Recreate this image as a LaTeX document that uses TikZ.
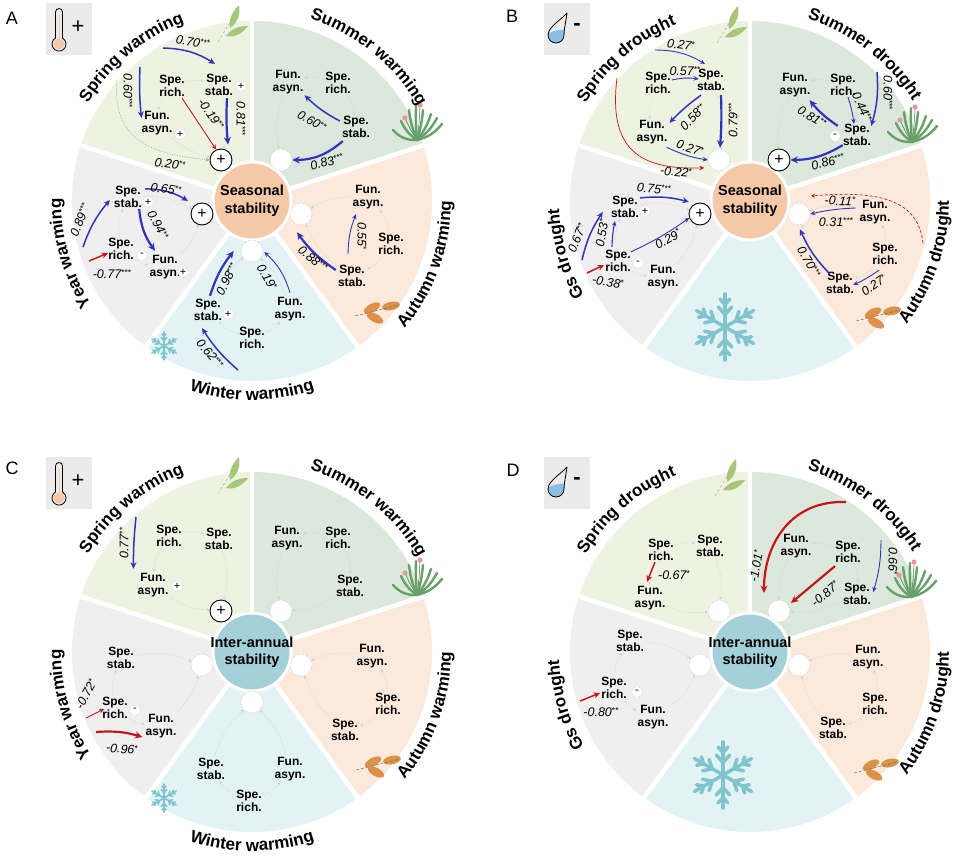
\documentclass[tikz,border=0pt]{standalone}
\usepackage{fontspec}
\setmainfont{Liberation Sans}
\usetikzlibrary{arrows.meta,decorations.text}

\definecolor{cspring}{RGB}{238,242,225}
\definecolor{csummer}{RGB}{220,232,219}
\definecolor{cautumn}{RGB}{251,233,219}
\definecolor{cwinter}{RGB}{227,242,244}
\definecolor{cyear}{RGB}{239,239,239}
\definecolor{cseason}{RGB}{245,200,168}
\definecolor{cinter}{RGB}{164,208,218}
\definecolor{pblue}{RGB}{48,52,188}
\definecolor{nred}{RGB}{196,22,28}
\definecolor{boxgray}{RGB}{235,235,235}
\definecolor{leafg}{RGB}{168,200,120}
\definecolor{grassg}{RGB}{104,160,106}
\definecolor{pinkc}{RGB}{232,150,160}
\definecolor{orangel}{RGB}{220,145,72}
\definecolor{snowc}{RGB}{128,196,205}
\definecolor{dropb}{RGB}{140,190,228}

\newcommand{\labf}{\bfseries\fontsize{12}{13.3}\selectfont}
\newcommand{\cff}{\itshape\fontsize{12.5}{13}\selectfont}
\newcommand{\ttlf}{\bfseries\fontsize{17}{17}\selectfont}
\newcommand{\stars}[1]{\raisebox{3pt}{\fontsize{8.5}{8.5}\selectfont\upshape #1}}

\tikzset{
 lab/.style={font=\labf, align=center, inner sep=1pt},
 cf/.style={font=\cff, inner sep=0.5pt},
 ctr/.style={circle, minimum size=78pt, inner sep=0pt, draw=white, line width=3pt},
 ctrtxt/.style={align=center, inner sep=0pt, font=\bfseries\fontsize{14.5}{17.5}\selectfont},
 bigc/.style={circle, minimum size=22pt, inner sep=0pt, fill=white, draw=gray!45, densely dotted, line width=0.6pt},
 bigp/.style={circle, minimum size=22pt, inner sep=0pt, fill=white, draw=black, line width=0.9pt, font=\fontsize{16}{16}\selectfont},
 sm/.style={circle, minimum size=11pt, inner sep=0pt, fill=white, draw=gray!55, densely dotted, line width=0.4pt, font=\fontsize{11}{11}\selectfont},
 pa/.style={draw=pblue, line width=0.9pt, -{Stealth[length=5pt,width=4.5pt]}},
 pam/.style={draw=pblue, line width=1.5pt, -{Stealth[length=6.5pt,width=6pt]}},
 pat/.style={draw=pblue, line width=2.2pt, -{Stealth[length=7.5pt,width=7pt]}},
 na/.style={draw=nred, line width=0.9pt, -{Stealth[length=5pt,width=4.5pt]}},
 nam/.style={draw=nred, line width=1.5pt, -{Stealth[length=6.5pt,width=6pt]}},
 nat/.style={draw=nred, line width=2.2pt, -{Stealth[length=7.5pt,width=7pt]}},
 nad/.style={draw=nred, line width=0.7pt, densely dashed, -{Stealth[length=4pt,width=4pt]}},
 tmp/.style={draw=gray!38, densely dotted, line width=0.5pt, -{Stealth[length=3pt,width=3pt]}},
 tmpd/.style={draw=gray!65, densely dotted, line width=0.7pt, -{Stealth[length=4pt,width=4pt]}},
 letter/.style={font=\fontsize{18}{18}\selectfont, inner sep=0pt},
}

\newcommand{\wheelbase}[2]{%
\begin{scope}[shift={(#1,-#2)}]
\fill[cspring] (0,0) -- (90:180) arc[start angle=90,end angle=162,radius=180] -- cycle;
\fill[cyear] (0,0) -- (162:180) arc[start angle=162,end angle=234,radius=180] -- cycle;
\fill[cwinter] (0,0) -- (234:180) arc[start angle=234,end angle=306,radius=180] -- cycle;
\fill[cautumn] (0,0) -- (306:180) arc[start angle=306,end angle=378,radius=180] -- cycle;
\fill[csummer] (0,0) -- (18:180) arc[start angle=18,end angle=90,radius=180] -- cycle;
\foreach \a in {18,90,162,234,306} \draw[white,line width=4.5pt] (0,0) -- (\a:184);
\end{scope}}

\newcommand{\ttlarc}[6]{%
\path[shift={(#1,-#2)}, decorate, decoration={text along path, text align=center, text={|\ttlf|#6}}] (#3:#5) arc[start angle=#3, end angle=#4, radius=#5];}

\newcommand{\snowfl}[4]{%
\begin{scope}[shift={(#1,-#2)}, snowc, line width=#4, line cap=round]
\foreach \a in {30,90,150,210,270,330} {
 \draw (0,0) -- (\a:#3);
 \draw (\a:{0.38*#3}) -- ++({\a+42}:{0.3*#3});
 \draw (\a:{0.38*#3}) -- ++({\a-42}:{0.3*#3});
 \draw (\a:{0.68*#3}) -- ++({\a+42}:{0.22*#3});
 \draw (\a:{0.68*#3}) -- ++({\a-42}:{0.22*#3});
}
\end{scope}}

\newcommand{\grass}[2]{%
\begin{scope}[shift={(#1,-#2)}]
\draw[grassg!70!black, line width=0.5pt] (0,0) to[bend left=5] (-12,22);
\draw[grassg!70!black, line width=0.5pt] (0,0) to[bend right=3] (3,35);
\foreach \tx/\ty/\b in {-24/10/25,-16/19/15,-8/30/8,-1/34/3,6/30/-6,14/26/-10,20/22/-14,25/16/-18}
 \draw[grassg, line width=2.4pt, line cap=round] (0,0) to[bend left=\b] (\tx,\ty);
\fill[pinkc] (-12,22) circle (2.6);
\fill[pinkc] (3,35) circle (2.6);
\end{scope}}

\newcommand{\sleaf}[2]{%
\begin{scope}[shift={(#1,-#2)}]
\fill[leafg] (-2,-4) .. controls (-4,6) and (2,14) .. (7,19) .. controls (9,10) and (5,0) .. (-2,-4);
\fill[leafg] (-6,-12) .. controls (0,-4) and (8,-2) .. (16,-2) .. controls (10,-10) and (2,-14) .. (-6,-12);
\draw[gray!70, densely dashed, line width=0.4pt] (-14,-18) -- (3,10);
\draw[gray!60, densely dashed, line width=0.3pt] (-6,-12) -- (16,-2);
\end{scope}}

\newcommand{\aleaf}[2]{%
\begin{scope}[shift={(#1,-#2)}]
\fill[orangel, rotate around={28:(-5,3)}] (-5,3) ellipse (9 and 4.2);
\fill[orangel, rotate around={12:(14,5)}] (14,5) ellipse (9 and 4.2);
\fill[orangel, rotate around={-28:(-2,-7)}] (-2,-7) ellipse (9 and 4.2);
\draw[black!60, densely dashed, line width=0.4pt] (-22,-5) -- (22,6);
\end{scope}}

\newcommand{\thermo}[3]{%
\begin{scope}[shift={(#1,-#2)}]
\fill[boxgray] (0,0) rectangle (46,-52);
\fill[cseason] (13,-41) circle (5.5);
\draw[cseason, line width=1pt] (13,-12) -- (13,-36);
\draw[line width=0.8pt] (9.5,-35) -- (9.5,-9) arc[start angle=180,end angle=0,radius=3.5] -- (16.5,-35);
\draw[line width=0.8pt] (9.5,-35) arc[start angle=120,end angle=420,radius=7];
\node[font=\fontsize{22}{22}\selectfont, inner sep=0pt] (#3) at (32,-24) {+};
\end{scope}}

\newcommand{\dropico}[3]{%
\begin{scope}[shift={(#1,-#2)}]
\fill[boxgray] (0,0) rectangle (46,-52);
\fill[dropb] (4.3,-30) .. controls (10,-28) and (16,-26) .. (20.3,-27) -- (20,-32) arc[start angle=0,end angle=-180,radius=8] -- cycle;
\draw[line width=0.8pt] (23,-10) .. controls (18,-16) and (4,-24) .. (4,-32) arc[start angle=180,end angle=360,radius=8] .. controls (20,-26) and (22,-18) .. (23,-10);
\node[font=\bfseries\fontsize{22}{22}\selectfont, inner sep=0pt] (#3) at (33,-24) {-};
\end{scope}}

\newcommand{\tmpl}[1]{%
\draw[tmp] (#1-r) to[bend right=15] (#1-f);
\draw[tmp] (#1-r) to[bend left=15] (#1-s);
\draw[tmp] (#1-f) to[bend right=15] (#1-c);
\draw[tmp] (#1-s) to[bend left=15] (#1-c);}

\begin{document}
\begin{tikzpicture}[x=1pt,y=1pt]
\fill[white] (0,0) rectangle (953,-856);
\useasboundingbox (0,0) rectangle (953,-856);

\wheelbase{252}{201}
\wheelbase{750}{201}
\wheelbase{252}{652}
\wheelbase{750}{652}

% icons
\thermo{46}{3}{A-icon}
\dropico{544}{3}{B-icon}
\thermo{46}{457}{C-icon}
\dropico{544}{457}{D-icon}
\sleaf{232}{24}
\sleaf{731}{25}
\sleaf{232}{476}
\sleaf{729}{478}
\grass{417}{140}
\grass{912}{142}
\grass{417}{595}
\grass{911}{597}
\aleaf{377}{311}
\aleaf{878}{316}
\aleaf{378}{765}
\aleaf{876}{768}
\snowfl{164}{346}{14}{1.6pt}
\snowfl{164}{798}{14}{1.6pt}
\snowfl{725}{327}{33}{3.5pt}
\snowfl{723}{775}{33}{3.5pt}

% letters
\node[letter] (LA) at (12,-18) {A};
\node[letter] (LB) at (512,-16) {B};
\node[letter] (LC) at (12,-468) {C};
\node[letter] (LD) at (513,-470) {D};

% titles
\ttlarc{252}{201}{180}{80}{191}{Spring warming}
\ttlarc{252}{201}{101}{1}{191}{Summer warming}
\ttlarc{252}{201}{246}{146}{191}{Year warming}
\ttlarc{252}{201}{290}{390}{199}{Autumn warming}
\ttlarc{252}{201}{220}{320}{199}{Winter warming}
\ttlarc{750}{201}{181}{81}{191}{Spring drought}
\ttlarc{750}{201}{102}{2}{191}{Summer drought}
\ttlarc{750}{201}{246}{146}{191}{Gs drought}
\ttlarc{750}{201}{291}{391}{199}{Autumn drought}
\ttlarc{252}{652}{180}{80}{191}{Spring warming}
\ttlarc{252}{652}{101}{1}{191}{Summer warming}
\ttlarc{252}{652}{246}{146}{191}{Year warming}
\ttlarc{252}{652}{290}{390}{199}{Autumn warming}
\ttlarc{252}{652}{220}{320}{199}{Winter warming}
\ttlarc{750}{652}{181}{81}{191}{Spring drought}
\ttlarc{750}{652}{102}{2}{191}{Summer drought}
\ttlarc{750}{652}{246}{146}{191}{Gs drought}
\ttlarc{750}{652}{291}{391}{199}{Autumn drought}

% centres
\node[ctr, fill=cseason] (A-ctr) at (252,-201) {};
\node[ctrtxt] (A-ctrt) at (A-ctr) {Seasonal\\stability};
\node[ctr, fill=cseason] (B-ctr) at (750,-201) {};
\node[ctrtxt] (B-ctrt) at (B-ctr) {Seasonal\\stability};
\node[ctr, fill=cinter] (C-ctr) at (252,-652) {};
\node[ctrtxt] (C-ctrt) at (C-ctr) {Inter-annual\\stability};
\node[ctr, fill=cinter] (D-ctr) at (750,-652) {};
\node[ctrtxt] (D-ctrt) at (D-ctr) {Inter-annual\\stability};

% ================= PANEL A =================
\node[lab] (A-sp-r) at (172,-86) {Spe.\\rich.};
\node[lab] (A-sp-s) at (219,-85) {Spe.\\stab.};
\node[lab] (A-sp-f) at (157,-123) {Fun.\\asyn.};
\node[bigp] (A-sp-c) at (221,-160) {+};
\node[lab] (A-su-f) at (288,-82) {Fun.\\asyn.};
\node[lab] (A-su-r) at (338,-83) {Spe.\\rich.};
\node[lab] (A-su-s) at (356,-127) {Spe.\\stab.};
\node[bigc] (A-su-c) at (281,-160) {};
\node[lab] (A-au-f) at (368,-197) {Fun.\\asyn.};
\node[lab] (A-au-r) at (391,-244) {Spe.\\rich.};
\node[lab] (A-au-s) at (352,-276) {Spe.\\stab.};
\node[bigc] (A-au-c) at (301,-214) {};
\node[lab] (A-wi-s) at (208,-310) {Spe.\\stab.};
\node[lab] (A-wi-f) at (290,-309) {Fun.\\asyn.};
\node[lab] (A-wi-r) at (252,-338) {Spe.\\rich.};
\node[bigc] (A-wi-c) at (252,-251) {};
\node[lab] (A-yr-s) at (128,-197) {Spe.\\stab.};
\node[lab] (A-yr-r) at (121,-249) {Spe.\\rich.};
\node[lab] (A-yr-f) at (165,-267) {Fun.\\asyn.};
\node[bigp] (A-yr-c) at (202,-214) {+};
\tmpl{A-sp}\tmpl{A-su}\tmpl{A-au}\tmpl{A-wi}\tmpl{A-yr}
\node[sm] (A-sp-m1) at (241,-86) {+};
\node[sm] (A-sp-m2) at (180,-134) {+};
\node[sm] (A-wi-m) at (228,-314) {+};
\node[sm] (A-yr-m1) at (148,-202) {+};
\node[sm] (A-yr-m2) at (142,-255) {-};
\node[sm] (A-yr-m3) at (183,-272) {+};

% spring A
\coordinate (A-sp-d1) at (163,-48);
\draw[pam] (A-sp-d1) to[bend left=15] ([shift={(-4,9)}]A-sp-s.north);
\node[cf, rotate=-10] (A-sp-l1) at (193,-42) {0.70\stars{***}};
\coordinate (A-sp-d2) at (140,-67);
\draw[pam] (A-sp-d2) to[bend right=4] ([shift={(1,5)}]A-sp-f.west);
\node[cf, rotate=-90] (A-sp-l2) at (128,-91) {0.60\stars{***}};
\draw[pat] ([shift={(8,-1)}]A-sp-s.south) to[bend right=4] ([shift={(7,4)}]A-sp-c.north);
\node[cf, rotate=-90] (A-sp-l3) at (241,-119) {0.81\stars{***}};
\draw[na] ([shift={(10,0)}]A-sp-r.south) -- (A-sp-c.115);
\node[cf, rotate=-55] (A-sp-l4) at (211,-114) {-0.19\stars{**}};
\coordinate (A-sp-d3) at (117,-80);
\draw[tmpd] (A-sp-d3) .. controls (112,-140) and (150,-154) .. (A-sp-c.west);
\node[cf, rotate=-8] (A-sp-l5) at (170,-164) {0.20\stars{**}};
% summer A
\draw[pam] ([shift={(-1,6)}]A-su-s.west) to[bend left=8] (A-su-f.south east);
\node[cf, rotate=-30] (A-su-l1) at (312,-121) {0.60\stars{**}};
\draw[pat] ([shift={(2,-2)}]A-su-s.south west) to[bend left=20] (A-su-c.east);
\node[cf, rotate=15] (A-su-l2) at (327,-162) {0.83\stars{***}};
% autumn A
\draw[pa] ([shift={(-4,10)}]A-au-s.north) to[bend left=10] ([shift={(-12,-4)}]A-au-f.south);
\node[cf, rotate=-90] (A-au-l1) at (362,-236) {0.55\stars{*}};
\draw[pat] ([shift={(-1,6)}]A-au-s.west) to[bend left=10] ([shift={(-4,-7)}]A-au-c.south);
\node[cf, rotate=-40] (A-au-l2) at (313,-259) {0.88\stars{***}};
% winter A
\draw[pat] ([shift={(2,2)}]A-wi-s.north) to[bend left=10] ([shift={(-7,0)}]A-wi-c.west);
\node[cf, rotate=63] (A-wi-l1) at (227,-279) {0.98\stars{***}};
\draw[pa] ([shift={(0,3)}]A-wi-f.north) to[bend right=15] ([shift={(1,-1)}]A-wi-c.east);
\node[cf, rotate=-60] (A-wi-l2) at (267,-277) {0.19\stars{*}};
\coordinate (A-wi-d) at (238,-370);
\draw[pam] (A-wi-d) to[bend left=8] ([shift={(-6,-6)}]A-wi-s.south);
\node[cf, rotate=-50] (A-wi-l3) at (210,-354) {0.62\stars{***}};
% year A
\draw[pam] ([shift={(2,-4)}]A-yr-s.north east) to[bend left=15] ([shift={(-6,5)}]A-yr-c.north west);
\node[cf, rotate=-8] (A-yr-l1) at (166,-189) {0.65\stars{**}};
\coordinate (A-yr-d1) at (83,-247);
\draw[pam] (A-yr-d1) to[bend left=10] ([shift={(-3,-3)}]A-yr-s.west);
\node[cf, rotate=68] (A-yr-l2) at (80,-220) {0.89\stars{***}};
\draw[pat] ([shift={(-4,0)}]A-yr-s.south east) to[bend right=15] ([shift={(-10,3)}]A-yr-f.north);
\node[cf, rotate=-62] (A-yr-l3) at (158,-225) {0.94\stars{**}};
\coordinate (A-yr-d2) at (89,-261);
\draw[nam] (A-yr-d2) -- ([shift={(1,-4)}]A-yr-r.west);
\node[cf] (A-yr-l4) at (112,-274) {-0.77\stars{***}};

% ================= PANEL B =================
\node[lab] (B-sp-r) at (658,-83) {Spe.\\rich.};
\node[lab] (B-sp-s) at (711,-80) {Spe.\\stab.};
\node[lab] (B-sp-f) at (652,-132) {Fun.\\asyn.};
\node[bigc] (B-sp-c) at (719,-160) {};
\node[lab] (B-su-f) at (795,-85) {Fun.\\asyn.};
\node[lab] (B-su-r) at (843,-85) {Spe.\\rich.};
\node[lab] (B-su-s) at (857,-135) {Spe.\\stab.};
\node[bigp] (B-su-c) at (779,-160) {+};
\node[lab] (B-au-f) at (875,-212) {Fun.\\asyn.};
\node[lab] (B-au-r) at (885,-254) {Spe.\\rich.};
\node[lab] (B-au-s) at (840,-283) {Spe.\\stab.};
\node[bigc] (B-au-c) at (799,-214) {};
\node[lab] (B-yr-s) at (625,-207) {Spe.\\stab.};
\node[lab] (B-yr-r) at (618,-261) {Spe.\\rich.};
\node[lab] (B-yr-f) at (663,-277) {Fun.\\asyn.};
\node[bigp] (B-yr-c) at (700,-214) {+};
\tmpl{B-sp}\tmpl{B-su}\tmpl{B-au}\tmpl{B-yr}
\node[sm] (B-su-m) at (835,-136) {-};
\node[sm] (B-yr-m1) at (645,-211) {+};
\node[sm] (B-yr-m2) at (638,-263) {-};

% spring B
\coordinate (B-sp-d1) at (655,-50);
\draw[pa] (B-sp-d1) to[bend left=15] ([shift={(-6,4)}]B-sp-s.north);
\node[cf, rotate=-8] (B-sp-l1) at (681,-45) {0.27\stars{*}};
\draw[pa] ([shift={(0,3)}]B-sp-r.east) to[bend left=10] ([shift={(3,1)}]B-sp-s.west);
\node[cf] (B-sp-l2) at (685,-71) {0.57\stars{**}};
\draw[pam] ([shift={(-10,-3)}]B-sp-s.south) to[bend right=5] ([shift={(1,-4)}]B-sp-f.north east);
\node[cf, rotate=45] (B-sp-l3) at (693,-117) {0.58\stars{**}};
\draw[pat] ([shift={(10,-3)}]B-sp-s.south) to[bend left=3] ([shift={(1,1)}]B-sp-c.north);
\node[cf, rotate=90] (B-sp-l4) at (733,-120) {0.79\stars{***}};
\draw[pa] ([shift={(-2,-2)}]B-sp-f.south east) to[bend right=8] (B-sp-c.west);
\node[cf, rotate=-18] (B-sp-l5) at (690,-148) {0.27\stars{*}};
\coordinate (B-sp-d2) at (617,-78);
\draw[na, line width=0.7pt] (B-sp-d2) .. controls (608,-150) and (640,-170) .. ([shift={(-4,-4)}]B-sp-c.200);
\node[cf, rotate=-5] (B-sp-l6) at (676,-172) {-0.22\stars{*}};
% summer B
\draw[pat] ([shift={(-4,-3)}]B-su-s.north west) to[bend left=8] ([shift={(-2,-2)}]B-su-f.south east);
\node[cf, rotate=-32] (B-su-l1) at (812,-117) {0.81\stars{**}};
\draw[pa] ([shift={(5,0)}]B-su-r.south) to[bend left=5] ([shift={(-3,-1)}]B-su-s.north);
\node[cf, rotate=-65] (B-su-l2) at (862,-107) {0.44\stars{**}};
\coordinate (B-su-d1) at (877,-72);
\draw[pam] (B-su-d1) to[bend left=10] ([shift={(-1,-3)}]B-su-s.north east);
\node[cf, rotate=-90] (B-su-l3) at (888,-93) {0.60\stars{***}};
\draw[pat] ([shift={(1,2)}]B-su-s.south west) to[bend left=15] (B-su-c.east);
\node[cf, rotate=15] (B-su-l4) at (828,-162) {0.86\stars{***}};
% autumn B
\coordinate (B-au-d1) at (923,-243);
\draw[nad] (B-au-d1) .. controls (918,-200) and (880,-190) .. ([shift={(4,10)}]B-au-c.north east);
\node[cf, rotate=-3] (B-au-l1) at (840,-201) {-0.11\stars{*}};
\draw[pa] ([shift={(-3,4)}]B-au-f.west) to[bend right=5] (B-au-c.east);
\node[cf] (B-au-l2) at (836,-222) {0.31\stars{***}};
\draw[pam] ([shift={(5,-3)}]B-au-s.north west) to[bend left=10] ([shift={(1,-4)}]B-au-c.south);
\node[cf, rotate=-60] (B-au-l3) at (809,-262) {0.70\stars{***}};
\draw[pa] ([shift={(8,-4)}]B-au-r.south west) to[bend left=5] ([shift={(-2,-2)}]B-au-s.east);
\node[cf, rotate=35] (B-au-l4) at (874,-285) {0.27\stars{*}};
% Gs B
\draw[pam] ([shift={(0,-3)}]B-yr-s.north east) to[bend left=10] ([shift={(-3,4)}]B-yr-c.135);
\node[cf, rotate=-5] (B-yr-l1) at (654,-189) {0.75\stars{***}};
\coordinate (B-yr-d1) at (582,-260);
\draw[pam] (B-yr-d1) to[bend left=10] ([shift={(-7,-5)}]B-yr-s.west);
\node[cf, rotate=68] (B-yr-l2) at (577,-238) {0.67\stars{**}};
\draw[pa, line width=1.1pt] ([shift={(-6,2)}]B-yr-r.north) to[bend left=5] ([shift={(-10,-2)}]B-yr-s.south);
\node[cf, rotate=80] (B-yr-l3) at (602,-233) {0.53\stars{*}};
\draw[pa] ([shift={(-1,-3)}]B-yr-r.north east) to[bend right=5] (B-yr-c.200);
\node[cf, rotate=30] (B-yr-l4) at (668,-239) {0.29\stars{*}};
\coordinate (B-yr-d2) at (587,-273);
\draw[nam] (B-yr-d2) -- ([shift={(0,-4)}]B-yr-r.west);
\node[cf, rotate=-10] (B-yr-l5) at (608,-282) {-0.38\stars{*}};

% ================= PANEL C =================
\node[lab] (C-sp-r) at (169,-536) {Spe.\\rich.};
\node[lab] (C-sp-s) at (219,-539) {Spe.\\stab.};
\node[lab] (C-sp-f) at (153,-585) {Fun.\\asyn.};
\node[bigp] (C-sp-c) at (221,-611) {+};
\node[lab] (C-su-f) at (287,-538) {Fun.\\asyn.};
\node[lab] (C-su-r) at (338,-538) {Spe.\\rich.};
\node[lab] (C-su-s) at (350,-586) {Spe.\\stab.};
\node[bigc] (C-su-c) at (281,-611) {};
\node[lab] (C-au-f) at (372,-656) {Fun.\\asyn.};
\node[lab] (C-au-r) at (388,-704) {Spe.\\rich.};
\node[lab] (C-au-s) at (345,-730) {Spe.\\stab.};
\node[bigc] (C-au-c) at (301,-665) {};
\node[lab] (C-wi-s) at (211,-769) {Spe.\\stab.};
\node[lab] (C-wi-f) at (290,-769) {Fun.\\asyn.};
\node[lab] (C-wi-r) at (249,-801) {Spe.\\rich.};
\node[bigc] (C-wi-c) at (252,-702) {};
\node[lab] (C-yr-s) at (121,-658) {Spe.\\stab.};
\node[lab] (C-yr-r) at (115,-708) {Spe.\\rich.};
\node[lab] (C-yr-f) at (161,-726) {Fun.\\asyn.};
\node[bigc] (C-yr-c) at (202,-665) {};
\tmpl{C-sp}\tmpl{C-su}\tmpl{C-au}\tmpl{C-wi}\tmpl{C-yr}
\node[sm] (C-sp-m) at (177,-586) {+};
\node[sm] (C-yr-m) at (135,-710) {-};

\coordinate (C-sp-d) at (136,-517);
\draw[pam] (C-sp-d) to[bend right=3] ([shift={(-3,3)}]C-sp-f.north west);
\node[cf, rotate=90] (C-sp-l1) at (124,-543) {0.77\stars{**}};
\coordinate (C-yr-d1) at (86,-718);
\draw[na] (C-yr-d1) -- ([shift={(3,-1)}]C-yr-r.west);
\node[cf, rotate=62] (C-yr-l1) at (86,-694) {-0.72\stars{*}};
\coordinate (C-yr-d2) at (96,-732);
\draw[nat] (C-yr-d2) to[bend left=10] ([shift={(-2,-11)}]C-yr-f.west);
\node[cf, rotate=-5] (C-yr-l2) at (122,-749) {-0.96\stars{*}};

% ================= PANEL D =================
\node[lab] (D-sp-r) at (661,-550) {Spe.\\rich.};
\node[lab] (D-sp-s) at (710,-546) {Spe.\\stab.};
\node[lab] (D-sp-f) at (650,-598) {Fun.\\asyn.};
\node[bigc] (D-sp-c) at (719,-611) {};
\node[lab] (D-su-f) at (796,-546) {Fun.\\asyn.};
\node[lab] (D-su-r) at (848,-552) {Spe.\\rich.};
\node[lab] (D-su-s) at (857,-594) {Spe.\\stab.};
\node[bigc] (D-su-c) at (779,-611) {};
\node[lab] (D-au-f) at (868,-657) {Fun.\\asyn.};
\node[lab] (D-au-r) at (875,-704) {Spe.\\rich.};
\node[lab] (D-au-s) at (833,-728) {Spe.\\stab.};
\node[bigc] (D-au-c) at (799,-665) {};
\node[lab] (D-yr-s) at (630,-641) {Spe.\\stab.};
\node[lab] (D-yr-r) at (614,-688) {Spe.\\rich.};
\node[lab] (D-yr-f) at (653,-717) {Fun.\\asyn.};
\node[bigc] (D-yr-c) at (700,-665) {};
\tmpl{D-sp}\tmpl{D-su}\tmpl{D-au}\tmpl{D-yr}
\node[sm] (D-yr-m) at (637,-692) {-};

\draw[nam] ([shift={(-6,0)}]D-sp-r.south) -- ([shift={(-3,3)}]D-sp-f.north);
\node[cf] (D-sp-l1) at (674,-575) {-0.67\stars{*}};
\coordinate (D-su-d1) at (846,-502);
\draw[nat] (D-su-d1) .. controls (790,-500) and (764,-545) .. ([shift={(-7,10)}]D-su-c.north west);
\node[cf, rotate=80] (D-su-l1) at (756,-566) {-1.01\stars{*}};
\draw[nat] ([shift={(-13,-2)}]D-su-r.south) -- ([shift={(4,0)}]D-su-c.north east);
\node[cf, rotate=40] (D-su-l2) at (825,-594) {-0.87\stars{*}};
\coordinate (D-su-d2) at (881,-540);
\draw[pa] (D-su-d2) to[bend left=8] ([shift={(1,2)}]D-su-s.east);
\node[cf, rotate=-90] (D-su-l3) at (893,-561) {0.66\stars{*}};
\coordinate (D-yr-d) at (580,-701);
\draw[nam] (D-yr-d) -- ([shift={(0,-5)}]D-yr-r.west);
\node[cf] (D-yr-l1) at (601,-712) {-0.80\stars{**}};

\end{tikzpicture}
\end{document}
